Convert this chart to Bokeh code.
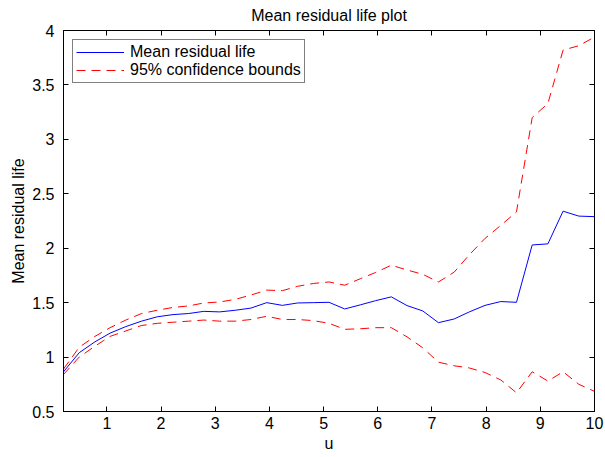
from bokeh.plotting import figure
from bokeh.models import Range1d, FixedTicker, LinearAxis, Legend, LegendItem
from bokeh.embed import file_html
from bokeh.resources import INLINE

# ---- data ----
u = [0.20, 0.49, 0.78, 1.06, 1.35, 1.64, 1.93, 2.22, 2.51, 2.79, 3.08, 3.37,
     3.66, 3.95, 4.24, 4.52, 4.81, 5.10, 5.39, 5.68, 5.96, 6.25, 6.54, 6.83,
     7.12, 7.41, 7.69, 7.98, 8.27, 8.56, 8.85, 9.14, 9.42, 9.71, 10.00]
mean_residual_life = [0.865, 1.04, 1.14, 1.22, 1.28, 1.33, 1.37, 1.39, 1.40, 1.42,
                      1.415, 1.43, 1.45, 1.50, 1.475, 1.497, 1.50, 1.503, 1.442, 1.48,
                      1.518, 1.553, 1.473, 1.424, 1.316, 1.35, 1.415, 1.475, 1.51, 1.503,
                      2.03, 2.04, 2.34, 2.295, 2.29]
upper_bound = [0.89, 1.09, 1.19, 1.27, 1.34, 1.40, 1.43, 1.456, 1.47, 1.497,
               1.506, 1.53, 1.57, 1.615, 1.61, 1.65, 1.676, 1.69, 1.66, 1.72,
               1.777, 1.844, 1.80, 1.76, 1.69, 1.78, 1.94, 2.09, 2.21, 2.333,
               3.20, 3.33, 3.82, 3.86, 3.94]
lower_bound = [0.84, 1.00, 1.10, 1.19, 1.24, 1.29, 1.31, 1.32, 1.33, 1.34,
               1.33, 1.33, 1.345, 1.375, 1.345, 1.345, 1.335, 1.31, 1.255, 1.26,
               1.27, 1.27, 1.186, 1.085, 0.953, 0.92, 0.90, 0.858, 0.79, 0.672,
               0.865, 0.78, 0.865, 0.75, 0.685]

x_ticks = [1, 2, 3, 4, 5, 6, 7, 8, 9, 10]
x_tick_labels = ["1", "2", "3", "4", "5", "6", "7", "8", "9", "10"]
y_ticks = [0.5, 1.0, 1.5, 2.0, 2.5, 3.0, 3.5, 4.0]
y_tick_labels = ["0.5", "1", "1.5", "2", "2.5", "3", "3.5", "4"]

FONT = "Liberation Sans"
FS = "16px"

p = figure(width=605, height=457, output_backend="svg", toolbar_location=None,
           x_range=Range1d(0.2, 10), y_range=Range1d(0.5, 4),
           title="Mean residual life plot",
           min_border_left=63, min_border_right=11,
           min_border_top=30, min_border_bottom=46)
p.background_fill_color = "white"
p.border_fill_color = "white"
p.outline_line_color = "black"
p.outline_line_width = 1
p.grid.visible = False

p.title.text_font = FONT
p.title.text_font_size = FS
p.title.text_font_style = "normal"
p.title.align = "center"
p.title.text_color = "black"
p.title.standoff = 10
p.title.vertical_align = "top"


def style_axis(ax, ticks, labels, show_labels=True):
    ax.ticker = FixedTicker(ticks=ticks)
    ax.major_tick_in = 5
    ax.major_tick_out = 0
    ax.minor_tick_in = 0
    ax.minor_tick_out = 0
    ax.axis_line_color = "black"
    ax.major_tick_line_color = "black"
    ax.axis_label_text_font = FONT
    ax.axis_label_text_font_size = FS
    ax.axis_label_text_font_style = "normal"
    ax.axis_label_text_color = "black"
    if show_labels:
        ax.major_label_overrides = {t: l for t, l in zip(ticks, labels)}
        ax.major_label_text_font = FONT
        ax.major_label_text_color = "black"
        ax.major_label_text_font_size = FS
    else:
        ax.major_label_text_color = None
        ax.major_label_text_alpha = 0
        ax.major_label_text_font_size = "0px"
        ax.major_label_standoff = 0


xa = p.xaxis[0]
style_axis(xa, x_ticks, x_tick_labels)
xa.axis_label = "u"
xa.major_label_standoff = 5
xa.axis_label_standoff = 3

ya = p.yaxis[0]
style_axis(ya, y_ticks, y_tick_labels)
ya.axis_label = "Mean residual life"
ya.major_label_standoff = 9
ya.axis_label_standoff = 2

top_ax = LinearAxis()
style_axis(top_ax, x_ticks, x_tick_labels, show_labels=False)
p.add_layout(top_ax, "above")
right_ax = LinearAxis()
style_axis(right_ax, y_ticks, y_tick_labels, show_labels=False)
p.add_layout(right_ax, "right")

r_mean = p.line(u, mean_residual_life, line_color="#0000ff", line_width=1)
r_up = p.line(u, upper_bound, line_color="#ff0000", line_width=1, line_dash="9 6")
r_lo = p.line(u, lower_bound, line_color="#ff0000", line_width=1, line_dash="9 6")

legend = Legend(items=[LegendItem(label="Mean residual life", renderers=[r_mean]),
                       LegendItem(label="95% confidence bounds", renderers=[r_up])],
                location="top_left")
legend.margin = 9
legend.padding = 3
legend.spacing = 0
legend.label_height = 18
legend.glyph_height = 18
legend.glyph_width = 48
legend.label_standoff = 6
legend.label_text_font = FONT
legend.label_text_font_size = FS
legend.label_text_color = "black"
legend.border_line_color = "black"
legend.border_line_width = 1
legend.background_fill_color = "white"
legend.background_fill_alpha = 1
p.add_layout(legend, "center")

open("out.html", "w").write(file_html(p, INLINE))
